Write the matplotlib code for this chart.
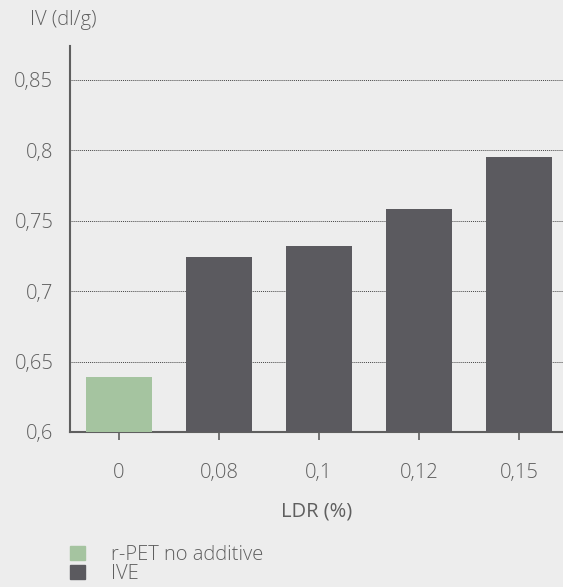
import matplotlib
matplotlib.use("Agg")
import matplotlib.pyplot as plt
from matplotlib.patches import Patch

categories = ["0", "0,08", "0,1", "0,12", "0,15"]
values = [0.639, 0.724, 0.732, 0.758, 0.795]
series = ["r-PET no additive", "IVE", "IVE", "IVE", "IVE"]
yticks = [0.6, 0.65, 0.7, 0.75, 0.8, 0.85]
ytick_labels = ["0,6", "0,65", "0,7", "0,75", "0,8", "0,85"]

colors = {"r-PET no additive": "#a5c4a0", "IVE": "#5b5a5f"}
bg = "#ededed"
txt = "#5f5f5f"
plt.rcParams['font.family'] = ['Open Sans', 'DejaVu Sans']
plt.rcParams['font.weight'] = 'light'
FS = 14.5

fig = plt.figure(figsize=(5.63, 5.87), dpi=100, facecolor=bg)
ax = fig.add_axes([70/563, 1-432/587, (563-70)/563, (432-46)/587], facecolor=bg)

x = list(range(len(categories)))
ax.bar(x, values, width=0.66, color=[colors[s] for s in series], zorder=3)

ax.set_xlim(-0.49, 4.44)
ax.set_ylim(0.6, 0.874)
ax.set_yticks(yticks)
ax.set_yticklabels(ytick_labels, fontsize=FS, color=txt)
ax.set_xticks(x)
ax.set_xticklabels(categories, fontsize=FS, color=txt)
ax.tick_params(axis='x', length=6, width=1.2, color="#5f5f5f", pad=16)
ax.tick_params(axis='y', length=0, pad=12)
ax.yaxis.grid(True, linestyle=(0, (1, 1)), color="#444444", linewidth=0.7, zorder=0)
for s in ["top", "right"]:
    ax.spines[s].set_visible(False)
for s in ["left", "bottom"]:
    ax.spines[s].set_color("#5f5f5f")
    ax.spines[s].set_linewidth(1.5)

ax.set_xlabel("LDR (%)", fontsize=FS, color=txt, labelpad=14)
fig.text(30/563, 1-20/587, "IV (dl/g)", fontsize=FS, color=txt, va="center", ha="left")

handles = [Patch(color=colors["r-PET no additive"]), Patch(color=colors["IVE"])]
leg = fig.legend(handles, ["r-PET no additive", "IVE"], loc="upper left",
                 bbox_to_anchor=(62/563, 1-537/587), frameon=False, fontsize=FS,
                 handlelength=0.75, handleheight=0.75, handletextpad=1.3,
                 labelspacing=-0.05, labelcolor=txt, borderaxespad=0)

fig.savefig("out.png", dpi=100, facecolor=bg)
